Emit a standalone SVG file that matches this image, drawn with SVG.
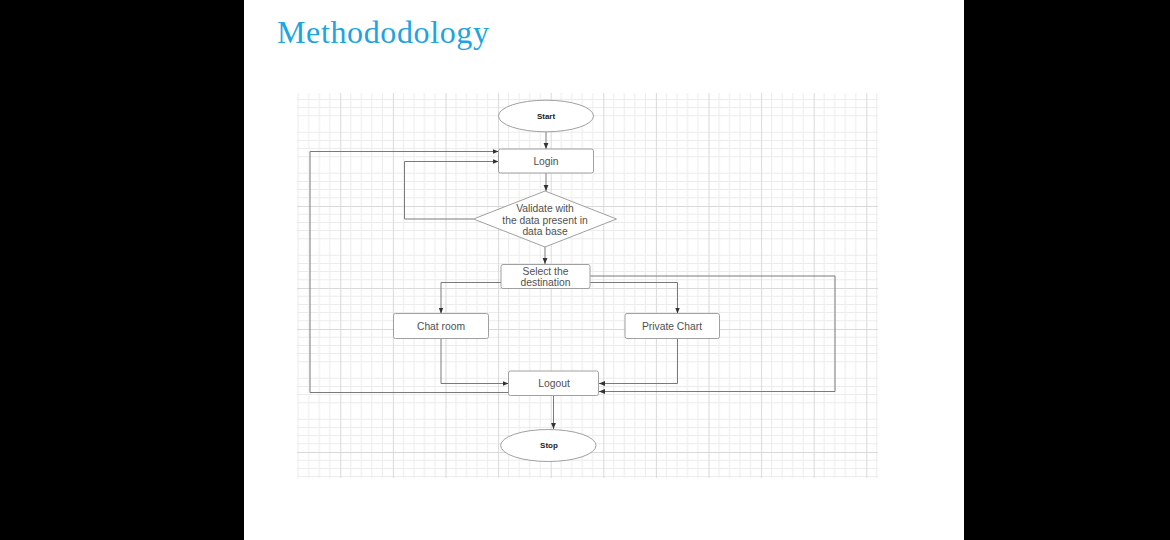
<svg xmlns="http://www.w3.org/2000/svg" width="1170" height="540" viewBox="0 0 1170 540">
<style>
.node{fill:#fff;stroke:#a0a0a0;stroke-width:1}
.lbl{font-family:"Liberation Sans",Arial,sans-serif;font-size:10.3px;fill:#505050;text-anchor:middle}
.bold{font-weight:bold;font-size:8px;fill:#222}
.conn{fill:none;stroke:#7a7a7a;stroke-width:1}
</style>
<defs>
<marker id="arr" viewBox="0 0 10 10" refX="10" refY="5" markerWidth="6" markerHeight="6" orient="auto" markerUnits="userSpaceOnUse">
<path d="M0,1 L10,5 L0,9 z" fill="#333"/>
</marker>
<pattern id="grid" patternUnits="userSpaceOnUse" x="287.7" y="83" width="52.6" height="41">
<g stroke="#ececec" stroke-width="1">
<line x1="10.52" y1="0" x2="10.52" y2="41"/>
<line x1="21.04" y1="0" x2="21.04" y2="41"/>
<line x1="31.56" y1="0" x2="31.56" y2="41"/>
<line x1="42.08" y1="0" x2="42.08" y2="41"/>
<line x1="0" y1="8.2" x2="52.6" y2="8.2"/>
<line x1="0" y1="16.4" x2="52.6" y2="16.4"/>
<line x1="0" y1="24.6" x2="52.6" y2="24.6"/>
<line x1="0" y1="32.8" x2="52.6" y2="32.8"/>
</g>
<g stroke="#d9d9d9" stroke-width="1">
<line x1="0.5" y1="0" x2="0.5" y2="41"/>
<line x1="0" y1="0.5" x2="52.6" y2="0.5"/>
</g>
</pattern>
</defs>
<rect x="0" y="0" width="1170" height="540" fill="#000"/>
<rect x="244" y="0" width="720" height="540" fill="#fff"/>
<text x="277" y="43" font-family="'Liberation Serif','Times New Roman',serif" font-size="32" fill="#1ea5e0" textLength="212" lengthAdjust="spacing">Methododology</text>
<rect x="297" y="93" width="581" height="385" fill="url(#grid)"/>

<g id="connectors">
<line class="conn" x1="546" y1="132" x2="546" y2="149" marker-end="url(#arr)"/>
<line class="conn" x1="546" y1="173" x2="546" y2="191" marker-end="url(#arr)"/>
<polyline class="conn" points="473.5,219 404.5,219 404.5,161.5 498.5,161.5" marker-end="url(#arr)"/>
<line class="conn" x1="545" y1="247" x2="545" y2="264" marker-end="url(#arr)"/>
<polyline class="conn" points="501,282.5 441,282.5 441,313.5" marker-end="url(#arr)"/>
<polyline class="conn" points="590,282.5 677.5,282.5 677.5,313.5" marker-end="url(#arr)"/>
<polyline class="conn" points="590,276 835,276 835,391.5 599,391.5" marker-end="url(#arr)"/>
<polyline class="conn" points="677.5,338.5 677.5,383.5 599,383.5" marker-end="url(#arr)"/>
<polyline class="conn" points="441,338.5 441,383.5 508.5,383.5" marker-end="url(#arr)"/>
<polyline class="conn" points="508.5,392.5 310,392.5 310,151.5 498.5,151.5" marker-end="url(#arr)"/>
<line class="conn" x1="553.5" y1="395.5" x2="553.5" y2="429" marker-end="url(#arr)"/>
</g>

<g id="start">
<ellipse class="node" cx="546" cy="116" rx="47.5" ry="15.8"/>
<text class="lbl bold" x="546" y="118.8">Start</text>
</g>
<g id="login">
<rect class="node" x="498.5" y="149" width="95" height="24" rx="2"/>
<text class="lbl" x="546" y="164.5">Login</text>
</g>
<g id="validate">
<polygon class="node" points="545,191 616.5,219 545,247 473.5,219"/>
<text class="lbl" x="545" y="212">Validate with</text>
<text class="lbl" x="545" y="223.5">the data present in</text>
<text class="lbl" x="545" y="235">data base</text>
</g>
<g id="select">
<rect class="node" x="501" y="264.5" width="89" height="24" rx="2"/>
<text class="lbl" x="545.5" y="274.5">Select the</text>
<text class="lbl" x="545.5" y="285.5">destination</text>
</g>
<g id="chatroom">
<rect class="node" x="393.5" y="313.5" width="95" height="25" rx="2"/>
<text class="lbl" x="441" y="329.5">Chat room</text>
</g>
<g id="private">
<rect class="node" x="625" y="313.5" width="94.5" height="25" rx="2"/>
<text class="lbl" x="672" y="329.5">Private Chart</text>
</g>
<g id="logout">
<rect class="node" x="508.5" y="371" width="90" height="24.5" rx="2"/>
<text class="lbl" x="554" y="386.5">Logout</text>
</g>
<g id="stop">
<ellipse class="node" cx="548.3" cy="445.5" rx="47.7" ry="16"/>
<text class="lbl bold" x="549" y="448.3">Stop</text>
</g>
</svg>
